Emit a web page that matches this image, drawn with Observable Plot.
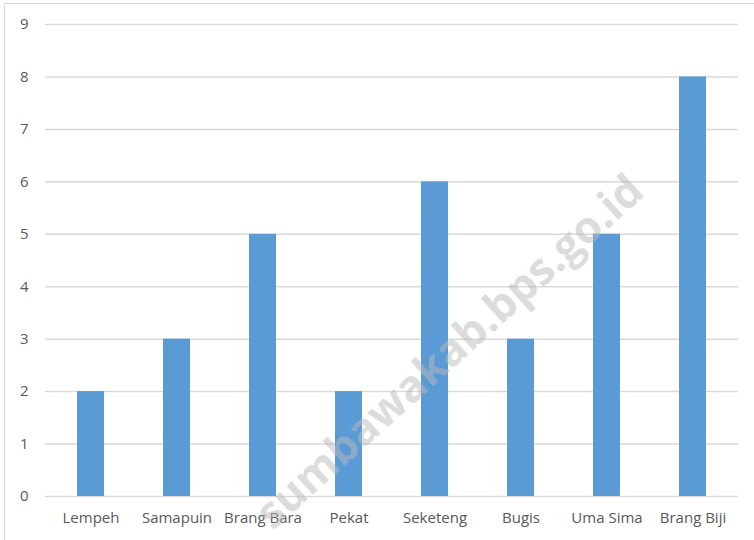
<!DOCTYPE html>
<html>
<head>
<meta charset="utf-8">
<script src="https://cdn.jsdelivr.net/npm/d3@7"></script>
<script src="https://cdn.jsdelivr.net/npm/@observablehq/plot@0.6"></script>
<style>
  html, body { margin: 0; padding: 0; background: #fff; }
  #wrap { position: relative; width: 754px; height: 540px; overflow: hidden; }
  #border { position: absolute; left: 4px; top: 3px; width: 800px; height: 600px; border: 1px solid #d9d9d9; box-sizing: border-box; }
  #chart { position: absolute; left: 0; top: 0; }
  #wm { position: absolute; left: 448px; top: 350px; transform: translate(-50%, -50%) rotate(-42deg);
        font-family: "Open Sans", sans-serif; font-weight: bold; font-size: 44px; color: rgba(185,185,185,0.5);
        white-space: nowrap; pointer-events: none; line-height: 1; }
</style>
</head>
<body>
<div id="wrap">
  <div id="border"></div>
  <div id="chart"></div>
  <div id="wm">sumbawakab.bps.go.id</div>
</div>
<script>
const categories = ["Lempeh", "Samapuin", "Brang Bara", "Pekat", "Seketeng", "Bugis", "Uma Sima", "Brang Biji"];
const values = [2, 3, 5, 2, 6, 3, 5, 8];
const yTicks = [0, 1, 2, 3, 4, 5, 6, 7, 8, 9];

const data = categories.map((c, i) => ({category: c, value: values[i]}));

const chart = Plot.plot({
  width: 754,
  height: 540,
  marginLeft: 45,
  marginRight: 16,
  marginTop: 24,
  marginBottom: 44,
  style: {fontFamily: "'Open Sans', sans-serif", fontSize: "15px", color: "#595959", background: "transparent"},
  x: {domain: categories, paddingInner: 0.69, paddingOuter: 0.33, label: null},
  y: {domain: [0, 9], label: null},
  marks: [
    Plot.gridY(yTicks, {stroke: "#d9d9d9", strokeOpacity: 1, strokeWidth: 1.5}),
    Plot.barY(data, {x: "category", y: "value", fill: "#5b9bd5"}),
    Plot.axisY(yTicks, {tickSize: 0, tickPadding: 17, fontSize: 15, fill: "#595959", tickFormat: d => String(d)}),
    Plot.axisX({tickSize: 0, tickPadding: 16, fontSize: 15, fill: "#595959"})
  ]
});
document.getElementById("chart").appendChild(chart);
</script>
</body>
</html>
